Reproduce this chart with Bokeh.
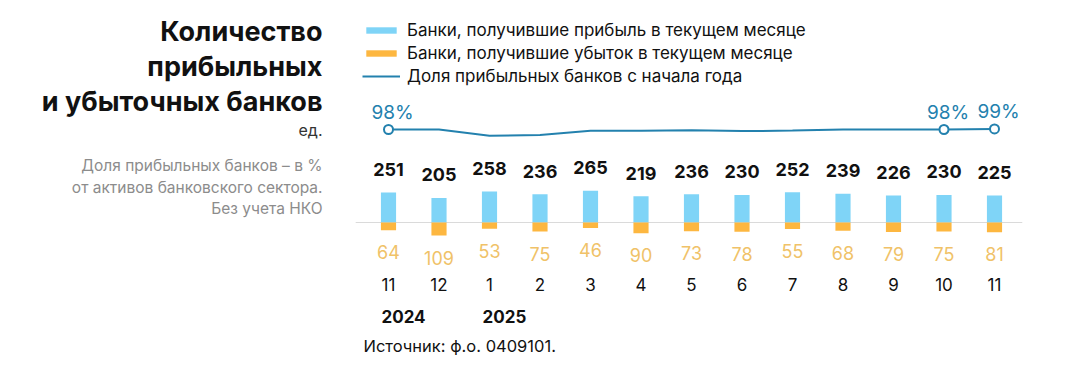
from bokeh.plotting import figure
from bokeh.models import Range1d, Label, Legend, LegendItem, ColumnDataSource
from bokeh.core.properties import value
from bokeh.embed import file_html
from bokeh.resources import INLINE

# ---- data ----
months = ["11", "12", "1", "2", "3", "4", "5", "6", "7", "8", "9", "10", "11"]
years = ["2024", "2025"]
profit = [251, 205, 258, 236, 265, 219, 236, 230, 252, 239, 226, 230, 225]
loss = [64, 109, 53, 75, 46, 90, 73, 78, 55, 68, 79, 75, 81]
share = [98.4, 98.4, 96.1, 96.4, 97.9, 97.9, 98.1, 97.8, 98.0, 98.4, 98.4, 98.4, 98.6]
share_label_idx = [0, 11, 12]

legend_labels = [
    "Банки, получившие прибыль в текущем месяце",
    "Банки, получившие убыток в текущем месяце",
    "Доля прибыльных банков с начала года",
]
title_lines = ["Количество", "прибыльных", "и убыточных банков"]
unit_text = "ед."
note_lines = ["Доля прибыльных банков – в %", "от активов банковского сектора.", "Без учета НКО"]
source_text = "Источник: ф.о. 0409101."

# ---- styling ----
FONT = "Inter"
C_PROFIT = "#7FD4F7"
C_LOSS = "#FDB740"
C_LOSS_TXT = "#F0C268"
C_LINE = "#2381AE"
W, H = 1050, 364
SH = 8  # text baseline correction (px)

idx = list(range(len(months)))
pitch = 50.5
x0 = -388 / pitch
ys = 0.12
y0 = -(H - 222) / ys
ps = 2.7
p0 = 98.4 - (H - 129) / ps

p = figure(width=W, height=H, output_backend="svg", toolbar_location=None,
           x_range=Range1d(x0, x0 + W / pitch), y_range=Range1d(y0, y0 + H / ys),
           min_border=0, outline_line_color=None)
p.extra_y_ranges = {"pct": Range1d(p0, p0 + H / ps)}
p.axis.visible = False
p.grid.visible = False
p.background_fill_color = "white"
p.border_fill_color = "white"

src = ColumnDataSource(dict(
    x=idx, profit=profit, loss=[-v for v in loss], share=share,
    ptxt=[str(v) for v in profit], ltxt=[str(v) for v in loss], mtxt=months,
))

# baseline
p.segment(x0=[idx[0] - 0.65], x1=[idx[-1] + 0.55], y0=[0], y1=[0],
          line_color="#DADADA", line_width=1)

bw = 0.3
r_profit = p.vbar(x="x", top="profit", bottom=0, width=bw, source=src,
                  fill_color=C_PROFIT, line_color=None)
r_loss = p.vbar(x="x", top=0, bottom="loss", width=bw, source=src,
                fill_color=C_LOSS, line_color=None)
r_line = p.line(x="x", y="share", source=src, y_range_name="pct",
                line_color=C_LINE, line_width=2)

sel = dict(x=[idx[i] for i in share_label_idx], y=[share[i] for i in share_label_idx],
           t=[f"{round(share[i])}%" for i in share_label_idx])
p.scatter(x=sel["x"], y=sel["y"], y_range_name="pct", size=9, marker="circle",
          fill_color="white", line_color=C_LINE, line_width=2)
p.text(x=sel["x"], y=sel["y"], text=sel["t"], y_range_name="pct", x_offset=4, y_offset=-9 - SH,
       text_align="center", text_baseline="alphabetic", text_font=value(FONT),
       text_font_size="19px", text_color=C_LINE)

p.text(x="x", y="profit", text="ptxt", source=src, y_offset=-15 - SH,
       text_align="center", text_baseline="alphabetic", text_font=value(FONT),
       text_font_size="18px", text_color="#111111", text_font_style="bold")
p.text(x="x", y="loss", text="ltxt", source=src, y_offset=30 - SH,
       text_align="center", text_baseline="alphabetic", text_font=value(FONT),
       text_font_size="18px", text_color=C_LOSS_TXT)
p.text(x="x", y=0, text="mtxt", source=src, y_offset=71 - SH - 1,
       text_align="center", text_baseline="alphabetic", text_font=value(FONT),
       text_font_size="17px", text_color="#111111")

year_x = [i for i in idx if i == 0 or months[i] == "1"]
p.text(x=year_x, y=[0] * len(year_x), text=years, x_offset=-7, y_offset=103 - SH - 1,
       text_align="left", text_baseline="alphabetic", text_font=value(FONT),
       text_font_size="17px", text_color="#111111", text_font_style="bold")

# legend
legend = Legend(items=[
    LegendItem(label=legend_labels[0], renderers=[r_profit]),
    LegendItem(label=legend_labels[1], renderers=[r_loss]),
    LegendItem(label=legend_labels[2], renderers=[r_line]),
], location=(362, 278), orientation="vertical", padding=0, margin=0, spacing=3,
    label_height=17, glyph_height=8, glyph_width=38, label_standoff=7,
    label_text_font=FONT, label_text_font_size="17px", label_text_color="#111111",
    border_line_alpha=0, background_fill_alpha=0)
p.add_layout(legend, "center")

# left texts
def lab(x, y, t, size, color, style="normal", align="right"):
    p.add_layout(Label(x=x, y=y + SH, x_units="screen", y_units="screen", text=t,
                       text_font=FONT, text_font_size=size, text_color=color,
                       text_font_style=style, text_align=align,
                       text_baseline="alphabetic"))

for t, yb in zip(title_lines, [H - 39, H - 73.5, H - 108.5]):
    lab(322, yb, t, "27px", "#111111", "bold")
lab(322, H - 137, unit_text, "16px", "#333333")
for t, yb in zip(note_lines, [H - 173, H - 195, H - 216]):
    lab(322, yb, t, "15.5px", "#8C8C8C")
lab(363, H - 353, source_text, "16.5px", "#111111", align="left")

open("out.html", "w").write(file_html(p, INLINE))
